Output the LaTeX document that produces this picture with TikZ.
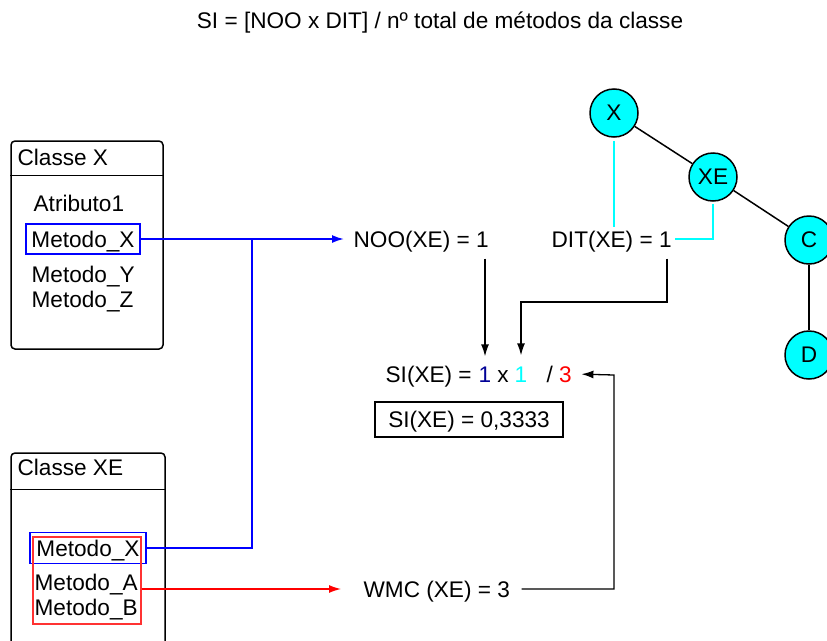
\documentclass[tikz,border=0pt]{standalone}
\usepackage{fontspec}
\setmainfont{Liberation Sans}
\usepackage{xcolor}
\usetikzlibrary{arrows.meta,positioning,calc}
\definecolor{siblue}{RGB}{0,0,150}
\definecolor{boxred}{RGB}{255,50,50}
\definecolor{aqua}{RGB}{0,255,255}

\begin{document}
\begin{tikzpicture}[
  x=1pt,y=-1pt,>={Latex[length=12pt,width=8pt]},
  line width=1.3pt,
  every node/.style={font=\fontsize{22.6}{27}\selectfont,inner sep=3pt},
  txt/.style={text height=16pt,text depth=0pt},
  classbox/.style={draw,rounded corners=4pt,line width=1.5pt},
  methbox/.style={draw,minimum height=30pt,inner sep=0pt},
  flow/.style={->,line width=1.3pt},
  blueflow/.style={->,blue,line width=1.8pt},
  redflow/.style={->,red,line width=1.3pt},
  ditline/.style={aqua,line width=1.3pt},
  classnode/.style={circle,draw,fill=aqua,minimum size=48pt,inner sep=0pt,
    line width=1.5pt}
]
  \useasboundingbox (0,0) rectangle (827,640);
  \clip (0,0) rectangle (827,640);

  \node[txt] (title) at (440,20)
    {SI = [NOO x DIT] / nº total de métodos da classe};

  % class X
  \node[classbox,minimum width=152pt,minimum height=208pt] (classx) at (87,245) {};
  \draw[line width=1.5pt] ([yshift=-35pt]classx.north west) -- ([yshift=-35pt]classx.north east);
  \node[txt,anchor=west] (classx-title) at (14,157) {Classe X};
  \node[txt,anchor=west] (attr1) at (30,203) {Atributo1};
  \node[methbox,draw=blue,minimum width=114pt,txt] (mx1) at (83,239) {Metodo\_X};
  \node[txt,anchor=west] (my) at (28,274) {Metodo\_Y};
  \node[txt,anchor=west] (mz) at (28,299) {Metodo\_Z};

  % class XE
  \node[classbox,minimum width=154pt,minimum height=220pt] (classxe) at (88,563) {};
  \draw[line width=1.5pt] ([yshift=-37pt]classxe.north west) -- ([yshift=-37pt]classxe.north east);
  \node[txt,anchor=west] (classxe-title) at (14,467) {Classe XE};
  \node[methbox,draw=blue,minimum width=116pt,minimum height=31pt,txt] (mx2) at (88,548) {Metodo\_X};
  \node[draw=boxred,minimum width=108pt,minimum height=87pt,inner sep=0pt] (wmc-box) at (87,580.5) {};
  \node[txt,anchor=west] (ma) at (31,582) {Metodo\_A};
  \node[txt,anchor=west] (mb) at (31,607) {Metodo\_B};

  % metrics
  \node[txt,anchor=west] (noo) at (350,239) {NOO(XE) = 1};
  \node[txt,anchor=west] (dit) at (548,239) {DIT(XE) = 1};
  \node[txt,anchor=west] (wmc) at (360,589) {WMC (XE) = 3};

  \node[txt,anchor=west] (si) at (382,374) {SI(XE) =};
  \node[txt,text=siblue,inner sep=1pt] (noo-one) at (485,374) {1};
  \node[txt,inner sep=1pt] (times) at (503,374) {x};
  \node[txt,text=aqua,inner sep=1pt] (dit-one) at (521,374) {1};
  \node[txt,anchor=west] (div) at (543,374) {/ \textcolor{red}{3}};
  \node[draw,txt,minimum width=188pt,minimum height=35pt,inner sep=0pt] (result) at (469,419.5)
    {SI(XE) = 0,3333};

  % inheritance tree
  \node[classnode] (X) at (614,113) {X};
  \node[classnode] (XE) at (713,177) {XE};
  \node[classnode] (C) at (809,240) {C};
  \node[classnode] (D) at (809,355) {D};
  \draw[line width=1.5pt] (X) -- (XE);
  \draw[line width=1.5pt] (XE) -- (C);
  \draw[line width=1.5pt] (C) -- (D);

  \coordinate (junction) at (252,239);
  \coordinate (dit-bend) at (667,302);
  \coordinate (wmc-corner) at (614,375);

  \draw[blueflow] (mx1.east) -- ([xshift=-6pt]noo.west);
  \draw[blue,line width=1.8pt] (mx2.east) -| (junction);
  \draw[redflow] (wmc-box.east |- wmc.west) -- ([xshift=-19pt]wmc.west);
  \draw[ditline] ([yshift=-3pt]X.south) -- (X.south |- dit.north);
  \draw[ditline] ([yshift=-2pt]XE.south) |- (dit.east);
  \draw[flow,shorten <=8pt,shorten >=8pt] (noo.south -| noo-one) -- (noo-one.north);
  \draw[flow,shorten <=8pt] (dit.south -| dit-bend) -- (dit-bend) -| ([yshift=9pt]dit-one.north);
  \draw[flow,shorten <=8pt,shorten >=6pt] (wmc.east) -| (wmc-corner) -- (div.east);
\end{tikzpicture}
\end{document}
